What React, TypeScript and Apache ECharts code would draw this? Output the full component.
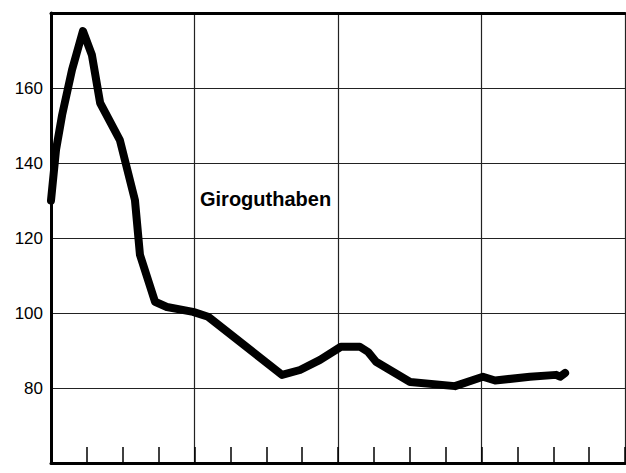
import React, { useEffect, useRef } from "react";
import * as echarts from "echarts";

// x position in quarter-units (16 minor divisions over 4 major sections)
const xPos = [0, 0.14, 0.31, 0.585, 0.89, 1.14, 1.37, 1.92, 2.34, 2.48, 2.9, 3.23, 3.96, 4.38, 6.44, 6.94, 7.5, 8.08, 8.61, 8.84, 9.06, 10.01, 11.26, 12.04, 12.38, 13.35, 14.08, 14.19, 14.33];
const values = [130, 143.5, 152.8, 164.8, 175.2, 168.8, 156, 146.1, 130.1, 115.5, 103, 101.6, 100.3, 99, 83.5, 84.8, 87.5, 91, 91, 89.6, 87, 81.6, 80.5, 83, 82, 83, 83.5, 83, 84];
const yTickLabels = [80, 100, 120, 140, 160];
const seriesLabel = "Giroguthaben";

export default function App() {
  const ref = useRef<HTMLDivElement>(null);
  useEffect(() => {
    if (!ref.current) return;
    const chart = echarts.init(ref.current, undefined, { renderer: "svg" });
    const font = "'Liberation Sans', Arial, Helvetica, sans-serif";
    chart.setOption({
      animation: false,
      backgroundColor: "#ffffff",
      grid: { left: 51, right: 1, top: 13, bottom: 10, containLabel: false },
      xAxis: [
        {
          type: "value",
          min: 0,
          max: 16,
          interval: 1,
          position: "bottom",
          axisLine: { show: true, lineStyle: { color: "#000", width: 3 } },
          axisTick: { show: true, inside: true, length: 16, lineStyle: { color: "#000", width: 1.5 } },
          axisLabel: { show: false },
          splitLine: { show: false },
        },
        {
          type: "value",
          min: 0,
          max: 16,
          interval: 4,
          position: "top",
          axisLine: { show: true, lineStyle: { color: "#000", width: 3 } },
          axisTick: { show: false },
          axisLabel: { show: false },
          splitLine: { show: true, lineStyle: { color: "#222", width: 1.2 } },
        },
      ],
      yAxis: [
        {
          type: "value",
          min: 60,
          max: 180,
          interval: 20,
          position: "left",
          axisLine: { show: true, lineStyle: { color: "#000", width: 3 } },
          axisTick: { show: false },
          axisLabel: {
            color: "#000",
            fontFamily: font,
            fontSize: 17,
            margin: 8,
            formatter: (v: number) => (yTickLabels.includes(v) ? String(v) : ""),
          },
          splitLine: { show: true, lineStyle: { color: "#222", width: 1.2 } },
        },
        {
          type: "value",
          min: 60,
          max: 180,
          interval: 20,
          position: "right",
          axisLine: { show: true, lineStyle: { color: "#000", width: 2 } },
          axisTick: { show: false },
          axisLabel: { show: false },
          splitLine: { show: false },
        },
      ],
      graphic: [
        {
          type: "text",
          x: 200,
          y: 199,
          style: {
            text: seriesLabel,
            font: `bold 20px ${font}`,
            fill: "#000",
            verticalAlign: "middle",
            align: "left",
          },
        },
      ],
      series: [
        {
          type: "line",
          xAxisIndex: 0,
          yAxisIndex: 0,
          data: xPos.map((x, i) => [x, values[i]]),
          showSymbol: false,
          symbol: "none",
          smooth: false,
          clip: false,
          lineStyle: { color: "#000", width: 8, join: "round", cap: "round" },
        },
      ],
    });
    return () => chart.dispose();
  }, []);
  return (
    <div
      ref={ref}
      style={{ position: "absolute", left: 0, top: 0, width: 626, height: 473, background: "#fff" }}
    />
  );
}
